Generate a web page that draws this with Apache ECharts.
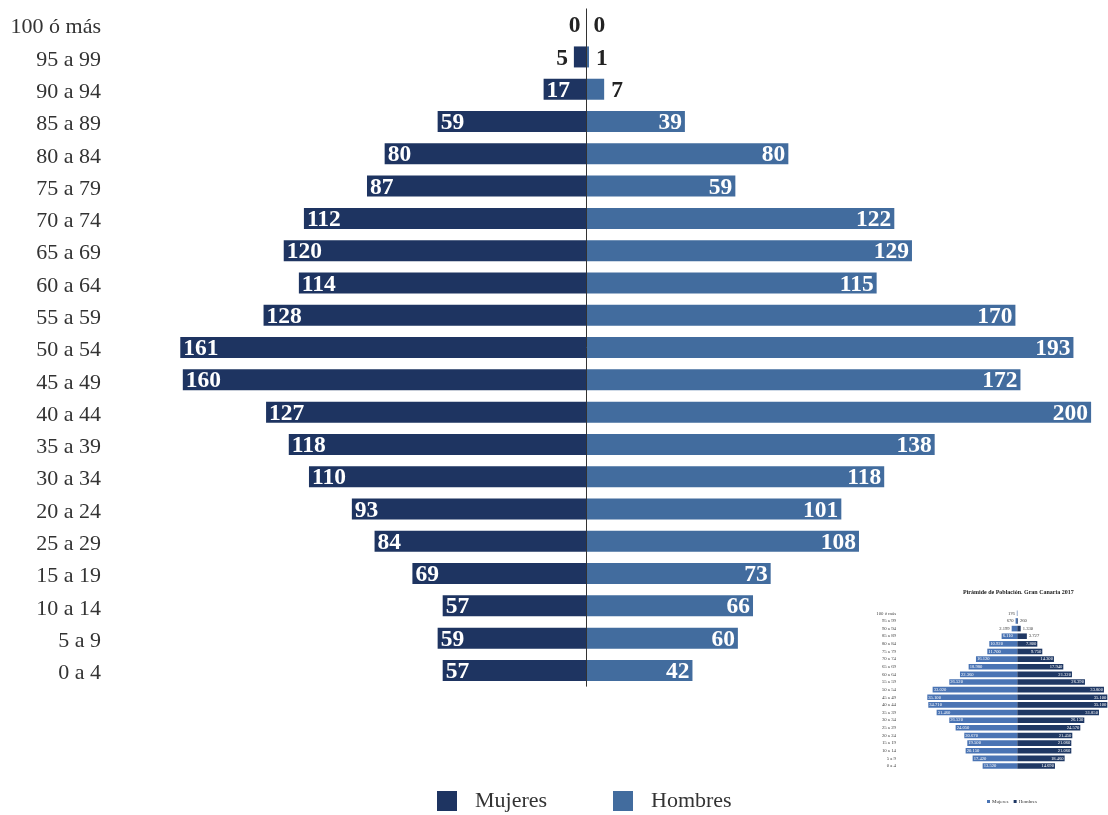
<!DOCTYPE html>
<html>
<head>
<meta charset="utf-8">
<script src="https://cdn.jsdelivr.net/npm/echarts@6/dist/echarts.min.js"></script>
<style>
html,body{margin:0;padding:0;background:#fff;}
#chart{width:1108px;height:815px;}
</style>
</head>
<body>
<div id="chart"></div>
<script>
// ---- Main pyramid data ----
const ageGroups = ['100 ó más','95 a 99','90 a 94','85 a 89','80 a 84','75 a 79','70 a 74','65 a 69','60 a 64','55 a 59','50 a 54','45 a 49','40 a 44','35 a 39','30 a 34','20 a 24','25 a 29','15 a 19','10 a 14','5 a 9','0 a 4'];
const mujeres = [0,5,17,59,80,87,112,120,114,128,161,160,127,118,110,93,84,69,57,59,57];
const hombres = [0,1,7,39,80,59,122,129,115,170,193,172,200,138,118,101,108,73,66,60,42];

// ---- Inset pyramid data (Gran Canaria 2017) ----
const insetTitle = 'Pirámide de Población. Gran Canaria 2017';
const insetAges = ['100 ó más','95 a 99','90 a 94','85 a 89','80 a 84','75 a 79','70 a 74','65 a 69','60 a 64','55 a 59','50 a 54','45 a 49','40 a 44','35 a 39','30 a 34','25 a 29','20 a 24','15 a 19','10 a 14','5 a 9','0 a 4'];
const insetMujeres = [176,670,2199,6110,10920,11700,16120,18980,22360,26520,33020,35100,34710,31460,26520,24050,20670,19500,20150,17420,13520];
const insetHombres = [50,260,1330,3727,7800,9750,14300,17940,21320,26390,33800,35100,35100,31850,26130,24570,21450,21060,21060,18460,14690];

const SERIF = 'Liberation Serif, DejaVu Serif, serif';
const C_MUJ = '#1e3461';
const C_HOM = '#426c9e';

function fmtThousands(v){ return String(v).replace(/\B(?=(\d{3})+(?!\d))/g, '.'); }

const mujData = mujeres.map(v => ({
  value: -v,
  label: v < 10
    ? {position: 'left', color: '#222', distance: 6}
    : {position: 'insideLeft', color: '#fff', distance: 3}
}));
const homData = hombres.map(v => ({
  value: v,
  label: v < 10
    ? {position: 'right', color: '#222', distance: 7}
    : {position: 'insideRight', color: '#fff', distance: 3}
}));

const insetMujData = insetMujeres.map(v => ({
  value: -v,
  label: v < 2500
    ? {position: 'left', color: '#333', distance: 2}
    : {position: 'insideLeft', color: '#fff', distance: 1}
}));
const insetHomData = insetHombres.map(v => ({
  value: v,
  label: v < 100 ? {show: false} : (v < 4000
    ? {position: 'right', color: '#333', distance: 2}
    : {position: 'insideRight', color: '#fff', distance: 1})
}));

const chart = echarts.init(document.getElementById('chart'), null, {renderer: 'canvas'});
chart.setOption({
  backgroundColor: '#fff',
  animation: false,
  title: {
    text: insetTitle,
    left: 963, top: 589,
    padding: 0,
    textStyle: {fontFamily: SERIF, fontSize: 6, fontWeight: 'bold', color: '#222'}
  },
  legend: [
    {
      data: ['Mujeres'], left: 437, top: 790, padding: 0,
      itemWidth: 20, itemHeight: 20, icon: 'rect',
      textStyle: {fontFamily: SERIF, fontSize: 22, color: '#333', padding: [0,0,0,13]}
    },
    {
      data: ['Hombres'], left: 613, top: 790, padding: 0,
      itemWidth: 20, itemHeight: 20, icon: 'rect',
      textStyle: {fontFamily: SERIF, fontSize: 22, color: '#333', padding: [0,0,0,13]}
    },
    {
      data: ['Mujeres ', 'Hombres '], left: 987, top: 799, padding: 0,
      itemWidth: 3, itemHeight: 3, itemGap: 4, icon: 'rect',
      textStyle: {fontFamily: SERIF, fontSize: 5, color: '#333', padding: [0,0,0,-3]}
    }
  ],
  grid: [
    {left: 110, right: 16.9, top: 8.5, height: 678.1},
    {left: 898, right: 0, top: 609.5, height: 160.3}
  ],
  xAxis: [
    {gridIndex: 0, type: 'value', min: -188.86, max: 200, show: false},
    {gridIndex: 1, type: 'value', min: -46527, max: 35373, show: false}
  ],
  yAxis: [
    {
      gridIndex: 0, type: 'category', data: ageGroups, inverse: true,
      axisLine: {show: false}, axisTick: {show: false}, splitLine: {show: false},
      axisLabel: {
        margin: 9,
        formatter: v => '{a|' + v + '}',
        rich: {a: {fontFamily: SERIF, fontSize: 22, color: '#333', padding: [6,0,0,0]}}
      }
    },
    {
      gridIndex: 1, type: 'category', data: insetAges, inverse: true,
      axisLine: {show: false}, axisTick: {show: false}, splitLine: {show: false},
      axisLabel: {fontFamily: SERIF, fontSize: 4.8, color: '#444', margin: 2}
    }
  ],
  series: [
    {
      name: 'Mujeres', type: 'bar', stack: 'main', xAxisIndex: 0, yAxisIndex: 0,
      data: mujData, barWidth: 21,
      itemStyle: {color: C_MUJ},
      label: {show: true, fontFamily: SERIF, fontSize: 23.5, fontWeight: 'bold', offset: [0, 1.5],
              formatter: p => Math.abs(p.value)},
      markLine: {
        silent: true, symbol: 'none',
        label: {show: false},
        lineStyle: {color: '#333', width: 1, type: 'solid'},
        data: [{xAxis: 0}]
      }
    },
    {
      name: 'Hombres', type: 'bar', stack: 'main', xAxisIndex: 0, yAxisIndex: 0,
      data: homData, barWidth: 21,
      itemStyle: {color: C_HOM},
      label: {show: true, fontFamily: SERIF, fontSize: 23.5, fontWeight: 'bold', offset: [0, 1.5],
              formatter: p => Math.abs(p.value)}
    },
    {
      name: 'Mujeres ', type: 'bar', stack: 'inset', xAxisIndex: 1, yAxisIndex: 1,
      data: insetMujData, barWidth: 5.6,
      itemStyle: {color: '#4a74b4'},
      label: {show: true, fontFamily: SERIF, fontSize: 4.6,
              formatter: p => fmtThousands(Math.abs(p.value))}
    },
    {
      name: 'Hombres ', type: 'bar', stack: 'inset', xAxisIndex: 1, yAxisIndex: 1,
      data: insetHomData, barWidth: 5.6,
      itemStyle: {color: '#1f3864'},
      label: {show: true, fontFamily: SERIF, fontSize: 4.6,
              formatter: p => fmtThousands(Math.abs(p.value))}
    }
  ]
});
</script>
</body>
</html>
